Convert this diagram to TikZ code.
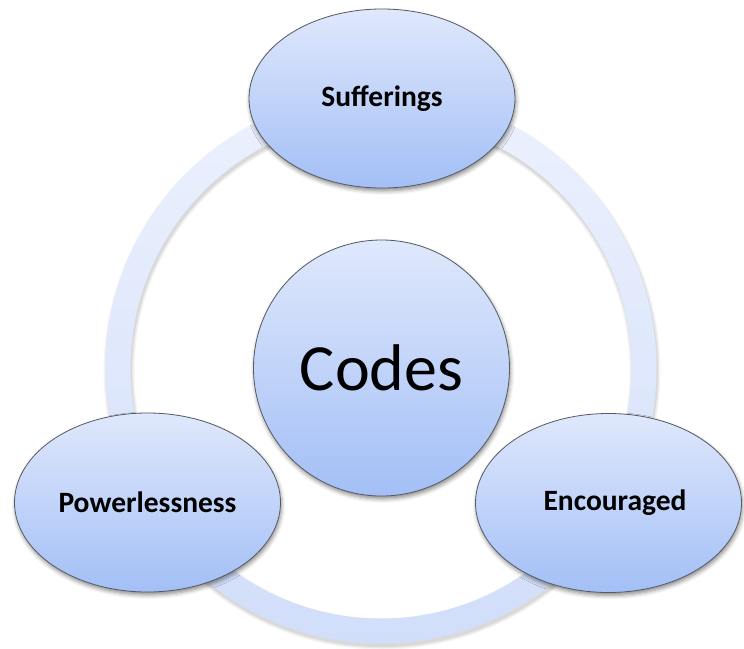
\documentclass[tikz,border=0pt]{standalone}
\usepackage{fontspec}
\setmainfont{Carlito}
\usetikzlibrary{shapes.geometric,shadows.blur}

\definecolor{ringtop}{HTML}{ECF1FD}
\definecolor{ringbot}{HTML}{D1DEFA}
\definecolor{balltop}{HTML}{DFE8FC}
\definecolor{ballbot}{HTML}{A3BFF6}
\definecolor{rim}{HTML}{555A60}

\tikzset{
  labelfont/.style={font=\fontsize{29.5}{29.5}\selectfont\bfseries},
  bubble/.style={
    ellipse, inner sep=0pt,
    top color=balltop, bottom color=ballbot,
    draw=rim, line width=0.8pt,
    blur shadow={shadow xshift=1pt, shadow yshift=-3pt,
                 shadow blur radius=4pt, shadow opacity=45},
    labelfont
  },
  oval/.style={bubble, minimum width=266pt, minimum height=179pt},
  core/.style={bubble, circle, minimum size=256pt,
    font=\fontsize{66}{66}\selectfont}
}

\begin{document}
\begin{tikzpicture}[x=1pt, y=-1pt]
  \useasboundingbox (0,0) rectangle (744,648);

  % soft shadow under the ring
  \foreach \w/\o in {31/0.04, 28.5/0.05, 26/0.07}
    \draw[black, opacity=\o, line width=\w pt] (382,371) circle[radius=263];

  % the ring joining the three outer ovals
  \coordinate (hub) at (381,368);
  \shade[even odd rule, top color=ringtop, bottom color=ringbot]
    (hub) circle[radius=275.5] (hub) circle[radius=250.5];

  % centre and outer nodes
  \node[core] (codes) at (381.5,368) {Codes};
  \node[oval] (suff) at (382,98.5) {Sufferings};
  \node[oval] (power) at (147.5,502.5) {Powerlessness};
  \node[oval] (enc) at (608.5,503) {};
  \node[labelfont] (enclbl) at (615,503) {Encouraged};
\end{tikzpicture}
\end{document}
